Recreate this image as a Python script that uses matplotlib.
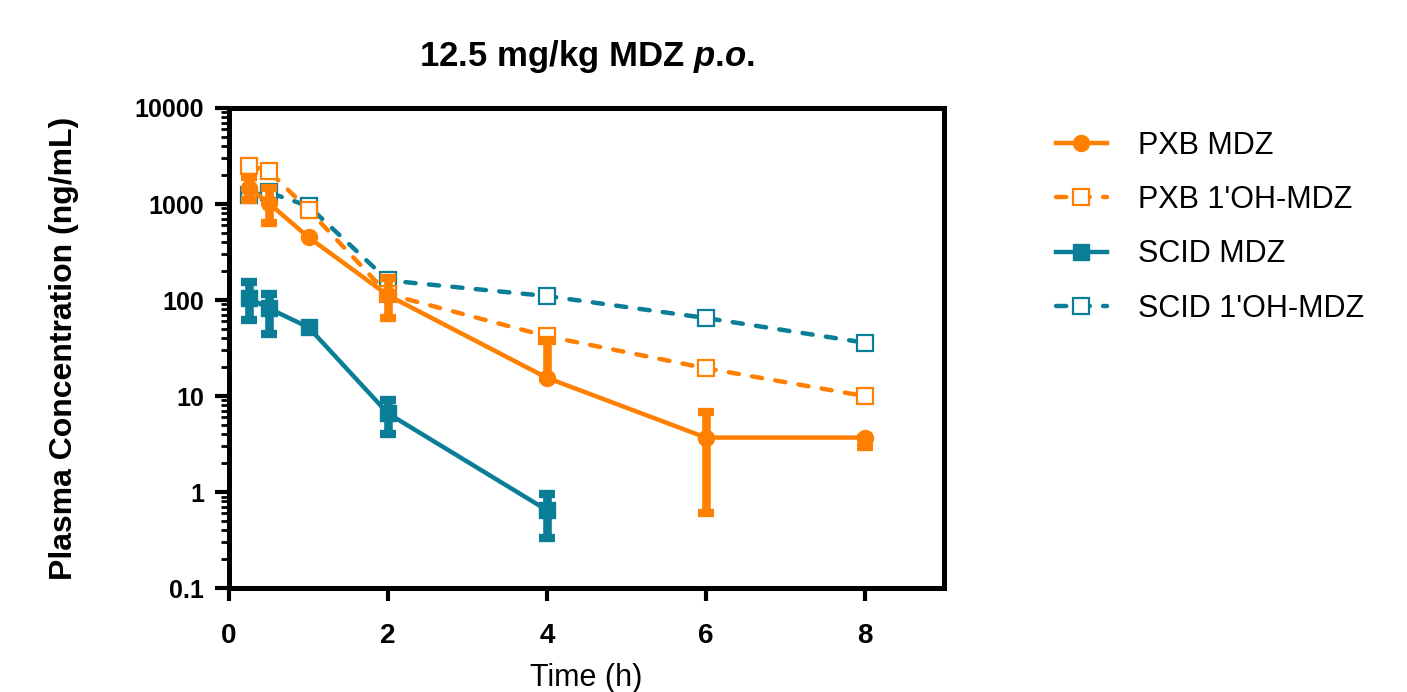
import matplotlib
matplotlib.use("Agg")
import matplotlib.pyplot as plt
from matplotlib.lines import Line2D
from matplotlib.ticker import LogLocator, NullFormatter, FixedLocator, FixedFormatter
import numpy as np

ORANGE = "#FF8000"
TEAL = "#0A7E97"
nan = np.nan

# time points (h)
t_full = [0.25, 0.5, 1, 2, 4, 6, 8]
t_scid_mdz = [0.25, 0.5, 1, 2, 4]

# PXB MDZ mean with asymmetric error (upper / lower bar ends, nan = no bar)
pxb_mdz = [1480, 1020, 450, 112, 15.5, 3.7, 3.7]
pxb_mdz_hi = [1900, 1480, nan, 170, 38, 6.8, 3.7]
pxb_mdz_lo = [1100, 630, nan, 65, 15.5, 0.6, 2.95]

pxb_oh = [2500, 2200, 870, 115, 42, 19.5, 10]

scid_mdz = [105, 82, 52, 6.6, 0.65]
scid_mdz_hi = [155, 117, nan, 9.0, 0.95]
scid_mdz_lo = [62, 44, nan, 4.0, 0.33]

scid_oh = [1230, 1320, 950, 160, 110, 65, 36]

y_ticks = [0.1, 1, 10, 100, 1000, 10000]
y_ticklabels = ["0.1", "1", "10", "100", "1000", "10000"]
x_ticks = [0, 2, 4, 6, 8]

labels = ["PXB MDZ", "PXB 1'OH-MDZ", "SCID MDZ", "SCID 1'OH-MDZ"]

plt.rcParams["font.family"] = ["Liberation Sans", "DejaVu Sans"]
plt.rcParams["mathtext.fontset"] = "custom"
plt.rcParams["mathtext.rm"] = "Liberation Sans"
plt.rcParams["mathtext.bfit"] = "Liberation Sans:italic:bold"

fig = plt.figure(figsize=(14.07, 6.92), dpi=100)
ax = fig.add_axes([0.1628, 0.150, 0.5083, 0.694])

lw = 3.2
dash = (0, (2.3, 3.0))
ms = 11.5
eb_kw = dict(elinewidth=6.2, capsize=5.6, capthick=6.0)


def err(mean, hi, lo):
    m = np.array(mean, float)
    return [m - np.array(lo, float), np.array(hi, float) - m]


ax.errorbar(t_full, pxb_mdz, yerr=err(pxb_mdz, pxb_mdz_hi, pxb_mdz_lo),
            color=ORANGE, lw=lw, marker="o", ms=ms, zorder=4, **eb_kw)
ax.plot(t_full, pxb_oh, color=ORANGE, lw=lw, ls=dash,
        dash_capstyle="round", marker="s", ms=ms, mfc="white",
        mec=ORANGE, mew=1.6, zorder=3)
ax.errorbar(t_scid_mdz, scid_mdz, yerr=err(scid_mdz, scid_mdz_hi, scid_mdz_lo),
            color=TEAL, lw=lw, marker="s", ms=ms - 0.5, zorder=4, **eb_kw)
ax.plot(t_full, scid_oh, color=TEAL, lw=lw, ls=dash,
        dash_capstyle="round", marker="s", ms=ms, mfc="white",
        mec=TEAL, mew=1.6, zorder=2)

ax.set_yscale("log")
ax.set_ylim(0.1, 10000)
ax.set_xlim(0, 9)

ax.yaxis.set_major_locator(FixedLocator(y_ticks))
ax.yaxis.set_major_formatter(FixedFormatter(y_ticklabels))
ax.yaxis.set_minor_locator(LogLocator(base=10, subs=np.arange(2, 10)))
ax.yaxis.set_minor_formatter(NullFormatter())
ax.set_xticks(x_ticks)

for s in ax.spines.values():
    s.set_linewidth(3.6)

ax.tick_params(axis="y", which="major", direction="out", length=10, width=3,
               pad=8, labelsize=18)
ax.tick_params(axis="y", which="minor", direction="out", length=6, width=2)
ax.tick_params(axis="x", which="major", direction="out", length=9, width=3,
               pad=16, labelsize=20)
for lab in ax.get_yticklabels() + ax.get_xticklabels():
    lab.set_fontweight("bold")

ax.set_xlabel("Time (h)", fontsize=22, labelpad=10)
ax.set_ylabel("Plasma Concentration (ng/mL)", fontsize=23, fontweight="bold",
              labelpad=40)
ax.set_title(r"12.5 mg/kg MDZ $\mathbfit{p}$.$\mathbfit{o}$.", fontsize=25,
             fontweight="bold", pad=30)

handles = [
    Line2D([], [], color=ORANGE, lw=lw, marker="o", ms=ms),
    Line2D([], [], color=ORANGE, lw=lw, ls=dash, dash_capstyle="round",
           marker="s", ms=ms, mfc="white", mec=ORANGE, mew=1.6),
    Line2D([], [], color=TEAL, lw=lw, marker="s", ms=ms - 0.5),
    Line2D([], [], color=TEAL, lw=lw, ls=dash, dash_capstyle="round",
           marker="s", ms=ms, mfc="white", mec=TEAL, mew=1.6),
]
fig.legend(handles, labels, loc="upper left", bbox_to_anchor=(0.7415, 0.829),
           frameon=False, fontsize=22, handlelength=1.7, handletextpad=1.0,
           labelspacing=0.8, borderaxespad=0)

fig.savefig("out.png", dpi=100)
